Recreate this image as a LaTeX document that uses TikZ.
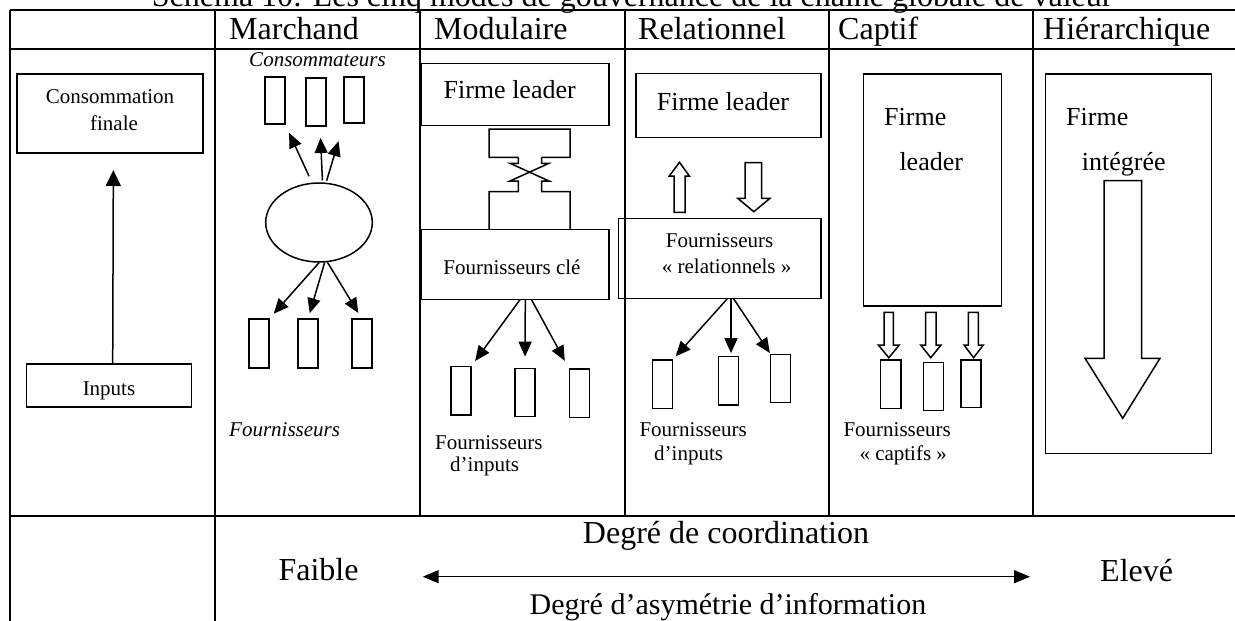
\documentclass[tikz,border=0pt]{standalone}
\usepackage{fontspec}
\setmainfont{Liberation Serif}
\usetikzlibrary{arrows.meta,shapes.geometric}
\tikzset{
  tbl/.style={line width=2pt},
  shp/.style={draw, line width=1.5pt},
  bx/.style={shp, rectangle, inner sep=0pt, outer sep=0pt},
  arr/.style={line width=1.5pt, -{Triangle[length=15pt,width=13pt]}},
  txt/.style={inner sep=0pt, anchor=base west},
  hd/.style={font=\fontsize{32}{38}\selectfont},
  md/.style={font=\fontsize{26}{31}\selectfont},
  sm/.style={font=\fontsize{21}{25}\selectfont},
  smi/.style={font=\fontsize{21}{25}\selectfont\itshape},
}
\begin{document}
\begin{tikzpicture}[x=1pt,y=-1pt]
\useasboundingbox (0,0) rectangle (1235,621);
\clip (0,0) rectangle (1235,621);
% title (cut at the top)
\node[txt,hd] (title) at (151.7,6.7) {Schéma 10: Les cinq modes de gouvernance de la chaîne globale de valeur};
% table grid
\draw[tbl] (10,10) -- (1240,10);
\draw[tbl] (10,49) -- (1240,49);
\draw[tbl] (10,515.7) -- (1240,515.7);
\draw[tbl] (10,10) -- (10,630);
\draw[tbl] (215,10) -- (215,630);
\draw[tbl] (420,10) -- (420,515.7);
\draw[tbl] (625,10) -- (625,515.7);
\draw[tbl] (829,10) -- (829,515.7);
\draw[tbl] (1033,10) -- (1033,515.7);
% headers
\node[txt,hd] (hmar) at (229,39.5) {Marchand};
\node[txt,hd] (hmod) at (434,39.5) {Modulaire};
\node[txt,hd] (hrel) at (638,39.5) {Relationnel};
\node[txt,hd] (hcap) at (838,39.5) {Captif};
\node[txt,hd] (hhie) at (1043,39.5) {Hiérarchique};

% ---- column 0
\node[bx, minimum width=186pt, minimum height=79pt] (cf) at (109.9,113.5) {};
\node[sm, inner sep=0pt, anchor=base] (cft1) at (110,103) {Consommation};
\node[sm, inner sep=0pt, anchor=base] (cft2) at (114,130) {finale};
\node[bx, minimum width=165pt, minimum height=43pt] (inp) at (109.2,385.5) {};
\node[sm, inner sep=0pt, anchor=base] (inpt) at (109,395) {Inputs};
\draw[line width=1.5pt, -{Triangle[length=16pt,width=15pt]}, shorten >=17pt]
  ([xshift=3.5pt]inp.north) -- ([xshift=3.5pt]cf.south);

% ---- column 1 : Marchand
\node[smi, inner sep=0pt, anchor=base] (cons) at (317.5,66.7) {Consommateurs};
\node[bx, minimum width=20pt, minimum height=47pt] (c1) at (275,100.3) {};
\node[bx, minimum width=20pt, minimum height=48pt] (c2) at (316,102) {};
\node[bx, minimum width=20pt, minimum height=46pt] (c3) at (354,100) {};
\node[shp, ellipse, inner sep=0pt, minimum width=106.6pt, minimum height=79pt] (ell) at (319,222.5) {};
\draw[arr, shorten <=7pt, shorten >=10pt] (ell.100) -- (c1.south east);
\draw[arr, shorten <=2pt, shorten >=12pt] (ell.85) -- ([xshift=4pt]c2.south);
\draw[arr, shorten <=2pt, shorten >=19pt] (ell.80) -- (c3.south west);
\node[bx, minimum width=20pt, minimum height=49pt] (b1) at (259,343.5) {};
\node[bx, minimum width=20pt, minimum height=49pt] (b2) at (308,343.5) {};
\node[bx, minimum width=20pt, minimum height=49pt] (b3) at (362,343.5) {};
\draw[arr, shorten >=7pt] (ell.270) -- (b1.north east);
\draw[arr, shorten >=6pt] (ell.278) -- (b2.north);
\draw[arr, shorten >=7pt] (ell.282) -- (b3.north);
\node[txt,smi] (fmar) at (229,436.7) {Fournisseurs};

% ---- column 2 : Modulaire
\node[bx, minimum width=188pt, minimum height=62.4pt] (fl2) at (515,94.5) {};
\node[md, inner sep=0pt, anchor=base] (fl2t) at (509.7,98.3) {Firme leader};
\draw[line width=1.5pt]
  (518.3,157.3) -- (489,157.3) -- (489,129) -- (570,129) -- (570,157.3) -- (541.7,157.3)
  (518.3,157.3) -- (518.3,163.3) -- (510,163.3) -- (549,181) -- (541.7,181) -- (541.7,191.7) -- (570,191.7) -- (570,229.3)
  (541.7,157.3) -- (541.7,163.3) -- (549,163.3) -- (510,181) -- (518.3,181) -- (518.3,191.7) -- (489,191.7) -- (489,229.3);
\node[bx, minimum width=187.3pt, minimum height=70pt] (fc) at (515.3,264.3) {};
\node[sm, inner sep=0pt, anchor=base] (fct) at (512,274) {Fournisseurs clé};
\node[bx, minimum width=20pt, minimum height=48.3pt] (m1) at (461,390.8) {};
\node[bx, minimum width=20pt, minimum height=48.4pt] (m2) at (525,392.5) {};
\node[bx, minimum width=20pt, minimum height=48.3pt] (m3) at (579.3,393.2) {};
\draw[arr, shorten >=7pt] ([xshift=5pt]fc.south) -- (m1.north east);
\draw[arr, shorten >=11.6pt] ([xshift=10pt]fc.south) -- (m2.north);
\draw[arr, shorten >=9.4pt] ([xshift=16pt]fc.south) -- (m3.north west);
\node[txt,sm] (fmo1) at (435,449) {Fournisseurs};
\node[txt,sm] (fmo2) at (450,471.7) {d’inputs};

% ---- column 3 : Relationnel
\node[bx, minimum width=185.3pt, minimum height=64pt] (fl3) at (728.4,105.3) {};
\node[txt,md] (fl3t) at (656.7,110) {Firme leader};
\draw[line width=1.5pt] (674,212.3) -- (674,176) -- (669.3,176) -- (679.5,162.3) -- (689.3,176) -- (685,176) -- (685,212.3) -- cycle;
\draw[line width=1.5pt] (745,162.7) -- (761.7,162.7) -- (761.7,198.3) -- (770,198.3) -- (753.8,211.7) -- (737.7,198.3) -- (745,198.3) -- cycle;
\node[bx, minimum width=202.7pt, minimum height=80pt] (fr) at (719.7,258.3) {};
\node[txt,sm] (frt1) at (665.7,247.7) {Fournisseurs};
\node[txt,sm] (frt2) at (661.7,273.3) {«~relationnels~»};
\node[bx, minimum width=20pt, minimum height=48.3pt] (r1) at (662.3,384.2) {};
\node[bx, minimum width=20pt, minimum height=48.3pt] (r2) at (728.3,380.8) {};
\node[bx, minimum width=20pt, minimum height=48.4pt] (r3) at (780.7,378.5) {};
\draw[arr, shorten >=5pt] ([xshift=8pt]fr.south) -- (r1.north east);
\draw[arr, shorten >=3.5pt] ([xshift=11.3pt]fr.south) -- ([xshift=2.7pt]r2.north);
\draw[arr, shorten >=1.5pt] ([xshift=13.6pt]fr.south) -- (r3.north west);
\node[txt,sm] (fre1) at (639.3,436.7) {Fournisseurs};
\node[txt,sm] (fre2) at (654,460) {d’inputs};

% ---- column 4 : Captif
\node[bx, minimum width=138.4pt, minimum height=232pt] (fl4) at (932.5,190) {};
\node[txt,md] (fl4t1) at (884,125) {Firme};
\node[txt,md] (fl4t2) at (899.3,170) {leader};
\draw[line width=1.5pt] (884,312.3) -- (893.3,312.3) -- (893.3,345) -- (899.3,345) -- (888.8,357.7) -- (878.3,345) -- (884,345) -- cycle;
\draw[line width=1.5pt] (925.7,312.3) -- (936,312.3) -- (936,345) -- (941,345) -- (930.8,357.7) -- (920.7,345) -- (925.7,345) -- cycle;
\draw[line width=1.5pt] (968.3,312.3) -- (978.3,312.3) -- (978.3,345) -- (983.3,345) -- (973.6,357.7) -- (964,345) -- (968.3,345) -- cycle;
\node[bx, minimum width=20.3pt, minimum height=48.3pt] (k1) at (890.8,384.2) {};
\node[bx, minimum width=20pt, minimum height=48.4pt] (k2) at (933.3,386.5) {};
\node[bx, minimum width=20pt, minimum height=47.7pt] (k3) at (971,383.8) {};
\node[txt,sm] (fca1) at (843.3,436) {Fournisseurs};
\node[txt,sm] (fca2) at (859.3,460) {«~captifs~»};

% ---- column 5 : Hiérarchique
\node[bx, minimum width=166pt, minimum height=379.3pt] (fi) at (1128.7,263.7) {};
\node[txt,md] (fit1) at (1066,125) {Firme};
\node[txt,md] (fit2) at (1081.7,170) {intégrée};
\draw[line width=1.5pt] (1104,180.7) -- (1141.7,180.7) -- (1141.7,358.3) -- (1160,358.3) -- (1122.7,418.3) -- (1085,358.3) -- (1104,358.3) -- cycle;

% ---- bottom row
\node[hd, inner sep=0pt, anchor=base] (dc) at (726,543.3) {Degré de coordination};
\node[txt,hd] (fa) at (278.3,580.7) {Faible};
\node[txt,hd] (el) at (1100,581.7) {Elevé};
\coordinate (lo) at (422.7,576.7);
\coordinate (hi) at (1030,576.7);
\draw[line width=1.5pt, {Triangle[length=16pt,width=13pt]}-{Triangle[length=16pt,width=13pt]}] (lo) -- (hi);
\node[inner sep=0pt, anchor=base, font=\fontsize{30}{36}\selectfont] (da) at (728,614) {Degré d’asymétrie d’information};
\end{tikzpicture}
\end{document}
